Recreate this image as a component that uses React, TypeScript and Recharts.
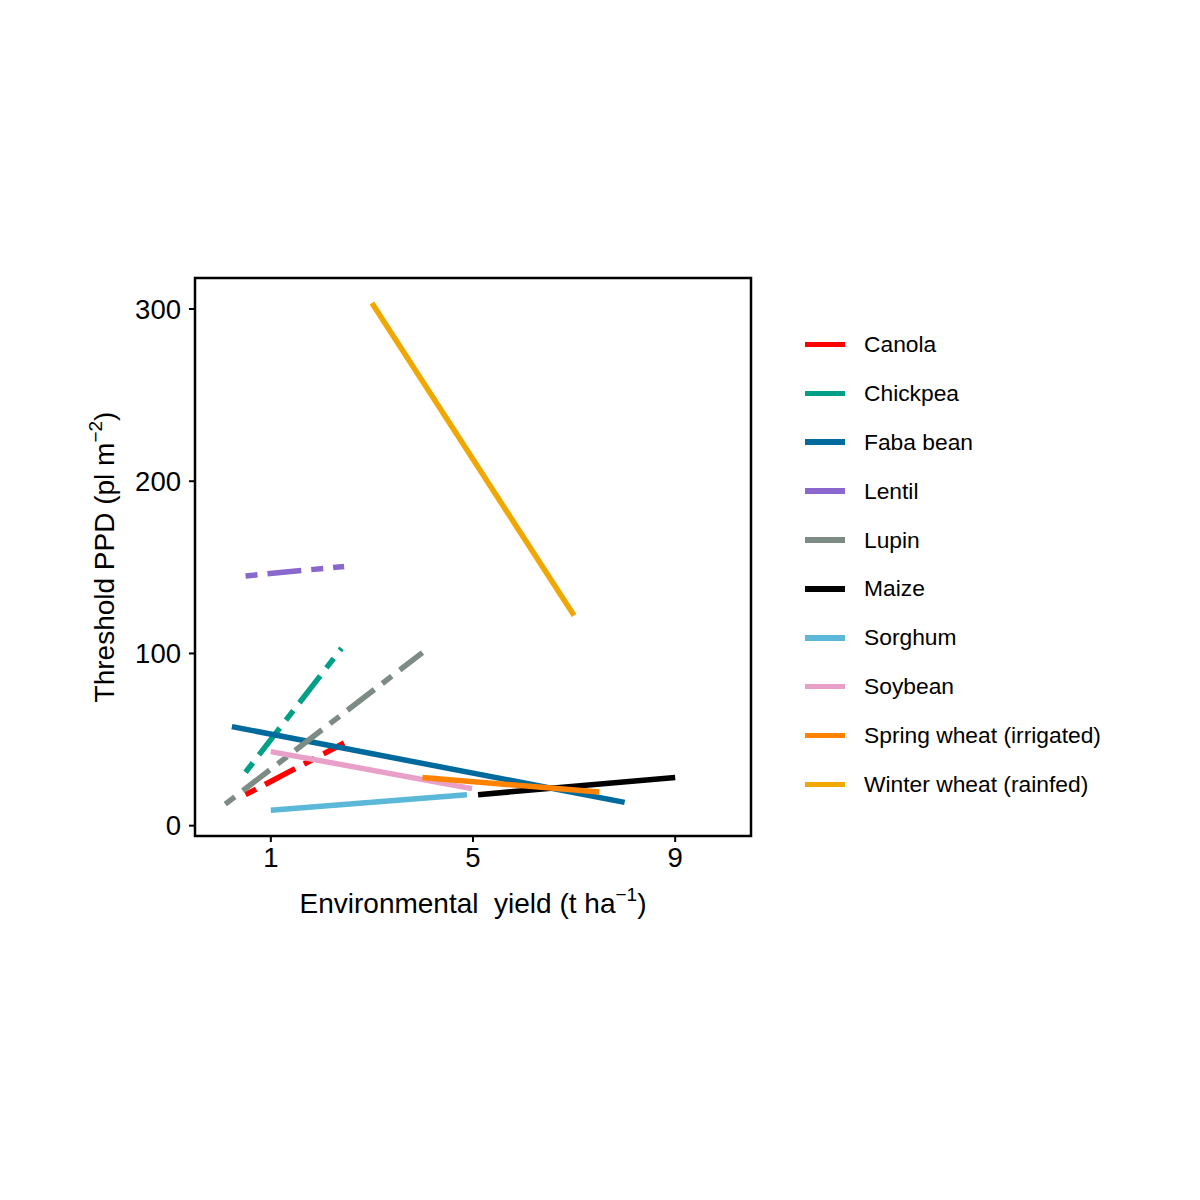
import React from 'react'
import { LineChart, Line, XAxis, YAxis, ReferenceArea } from 'recharts'

// endpoints of each fitted line: x = environmental yield (t/ha), y = threshold PPD
const canola = [{ x: 0.5, y: 18 }, { x: 2.45, y: 48 }]
const chickpea = [{ x: 0.5, y: 31 }, { x: 2.4, y: 103 }]
const fabaBean = [{ x: 0.23, y: 57.5 }, { x: 8.0, y: 13.5 }]
const lentil = [{ x: 0.5, y: 145 }, { x: 2.45, y: 150.5 }]
const lupin = [{ x: 0.1, y: 12.5 }, { x: 4.0, y: 100.5 }]
const maize = [{ x: 5.1, y: 18 }, { x: 9.0, y: 28 }]
const sorghum = [{ x: 1.0, y: 9 }, { x: 4.88, y: 18 }]
const soybean = [{ x: 1.0, y: 43 }, { x: 4.98, y: 21.5 }]
const springWheat = [{ x: 4.0, y: 28 }, { x: 7.5, y: 19.5 }]
const winterWheat = [{ x: 3.0, y: 303.5 }, { x: 7.0, y: 122 }]

const SERIES = [
  { name: 'Canola', data: canola },
  { name: 'Chickpea', data: chickpea },
  { name: 'Faba bean', data: fabaBean },
  { name: 'Lentil', data: lentil },
  { name: 'Lupin', data: lupin },
  { name: 'Maize', data: maize },
  { name: 'Sorghum', data: sorghum },
  { name: 'Soybean', data: soybean },
  { name: 'Spring wheat (irrigated)', data: springWheat },
  { name: 'Winter wheat (rainfed)', data: winterWheat },
]

const X_TICKS = [1, 5, 9]
const Y_TICKS = [0, 100, 200, 300]
const X_DOMAIN = [-0.5, 10.5]
const Y_DOMAIN = [-6, 318]

const COLORS: Record<string, string> = {
  Canola: '#FF0000',
  Chickpea: '#00A087',
  'Faba bean': '#006A9C',
  Lentil: '#8A67CC',
  Lupin: '#7D8B85',
  Maize: '#000000',
  Sorghum: '#5BB8D8',
  Soybean: '#E8A0C8',
  'Spring wheat (irrigated)': '#FF8200',
  'Winter wheat (rainfed)': '#F0A800',
}
const DASHED: Record<string, boolean> = { Canola: true, Chickpea: true, Lentil: true, Lupin: true }
const DASH = '12 10 34 10'

const FONT = '"Liberation Sans", Arial, sans-serif'

const XTitle = ({ viewBox }: any) => (
  <text
    x={viewBox.x + viewBox.width / 2}
    y={viewBox.y + 77}
    textAnchor="middle"
    fontFamily={FONT}
    fontSize={28}
    fill="#000"
    style={{ whiteSpace: 'pre' }}
  >
    {'Environmental  yield (t ha'}
    <tspan dy={-12} fontSize={19}>−1</tspan>
    <tspan dy={12}>)</tspan>
  </text>
)

const YTitle = ({ viewBox }: any) => {
  const x = viewBox.x + 19
  const y = viewBox.y + viewBox.height / 2
  return (
    <text
      x={x}
      y={y}
      transform={`rotate(-90, ${x}, ${y})`}
      textAnchor="middle"
      fontFamily={FONT}
      fontSize={28}
      fill="#000"
    >
      Threshold PPD (pl m
      <tspan dy={-12} fontSize={19}>−2</tspan>
      <tspan dy={12}>)</tspan>
    </text>
  )
}

const LegendBox = () => (
  <div style={{ position: 'absolute', left: 797, top: 312, fontFamily: FONT, fontSize: 22.8, color: '#000' }}>
    {SERIES.map(s => (
      <div key={s.name} style={{ display: 'flex', alignItems: 'center', height: 48.9 }}>
        <div style={{ width: 40, height: 5.5, background: COLORS[s.name], marginRight: 19 }} />
        <span>{s.name}</span>
      </div>
    ))}
  </div>
)

export default function App() {
  return (
    <div style={{ position: 'relative', width: 1184, height: 1184 }}>
      <LineChart width={1184} height={1184} margin={{ top: 270, right: 441, bottom: 276, left: 87 }}>
        <XAxis
          dataKey="x"
          type="number"
          domain={X_DOMAIN}
          ticks={X_TICKS}
          allowDataOverflow
          axisLine={false}
          tickSize={6}
          tickMargin={5}
          height={80}
          tick={{ fill: '#000', fontSize: 27.5, fontFamily: FONT }}
          tickLine={{ stroke: '#000', strokeWidth: 2 }}
          label={<XTitle />}
        />
        <YAxis
          type="number"
          domain={Y_DOMAIN}
          ticks={Y_TICKS}
          allowDataOverflow
          axisLine={false}
          tickSize={6}
          tickMargin={8}
          width={100}
          tick={{ fill: '#000', fontSize: 27.5, fontFamily: FONT }}
          tickLine={{ stroke: '#000', strokeWidth: 2 }}
          label={<YTitle />}
        />
        {SERIES.map(s => (
          <Line
            key={s.name}
            data={s.data}
            dataKey="y"
            name={s.name}
            stroke={COLORS[s.name]}
            strokeWidth={5.5}
            strokeDasharray={DASHED[s.name] ? DASH : undefined}
            dot={false}
            activeDot={false}
            isAnimationActive={false}
          />
        ))}
        <ReferenceArea
          x1={X_DOMAIN[0]}
          x2={X_DOMAIN[1]}
          y1={Y_DOMAIN[0]}
          y2={Y_DOMAIN[1]}
          fill="none"
          stroke="#000"
          strokeWidth={2.5}
          ifOverflow="visible"
        />
      </LineChart>
      <LegendBox />
    </div>
  )
}
